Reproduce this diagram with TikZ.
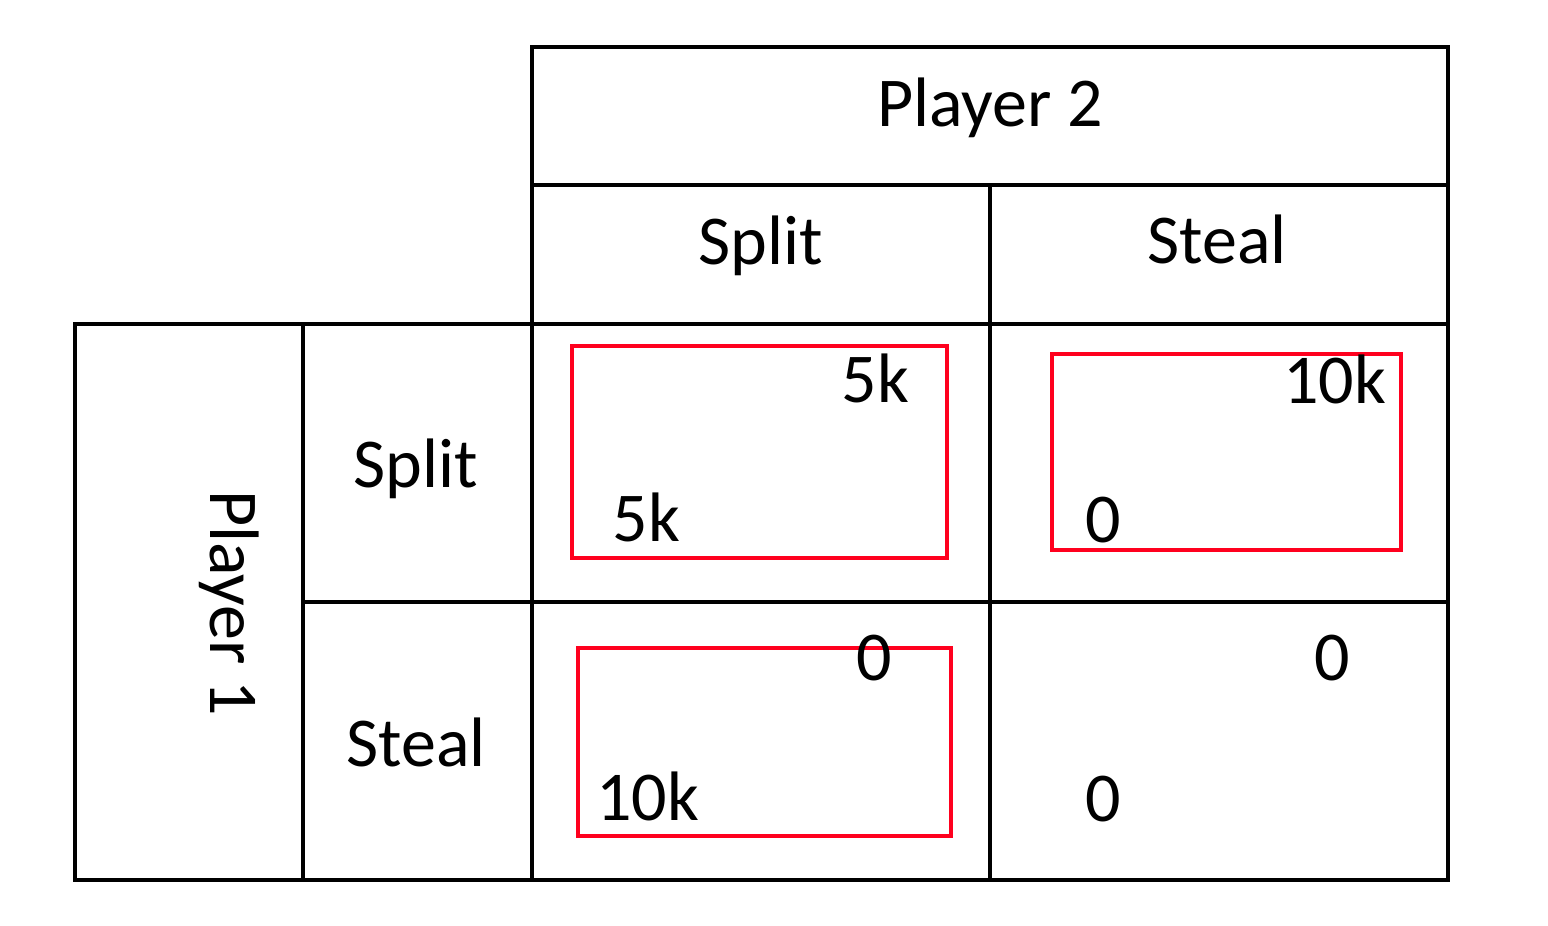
\documentclass[tikz,border=0pt]{standalone}
\usepackage{fontspec}
\setmainfont{Carlito}
\definecolor{hl}{RGB}{255,0,30}
\begin{document}
\begin{tikzpicture}[x=1pt,y=-1pt,
  grid/.style={line width=3.2pt,black},
  hlbox/.style={line width=4pt,draw=hl},
  lbl/.style={inner sep=0pt,anchor=base,font=\fontsize{70}{84}\selectfont}]
\useasboundingbox[fill=white] (0,0) rectangle (1548,926);
% grid
\draw[grid] (532,47) rectangle (1448,880);
\draw[grid] (532,185) -- (1448,185);
\draw[grid] (75,324) -- (1448,324);
\draw[grid] (75,324) rectangle (532,880);
\draw[grid] (303,324) -- (303,880);
\draw[grid] (303,602) -- (1448,602);
\draw[grid] (990,185) -- (990,880);
% highlights
\draw[hlbox] (572,346) rectangle (947,558);
\draw[hlbox] (1052,354) rectangle (1401,550);
\draw[hlbox] (578,648) rectangle (951,836);
% headers
\node[lbl] (p2) at (990,126) {Player 2};
\node[lbl] (c1) at (761,264) {Split};
\node[lbl] (c2) at (1217,263) {Steal};
\node[lbl,rotate=-90] (p1) at (210,603) {Player 1};
\node[lbl] (r1) at (416,487) {Split};
\node[lbl] (r2) at (416,766) {Steal};
% payoffs
\node[lbl] (a2) at (875.5,402) {5k};
\node[lbl] (a1) at (646.5,541) {5k};
\node[lbl] (b2) at (1334.5,403) {10k};
\node[lbl] (b1) at (1103.5,542) {0};
\node[lbl] (c2p) at (874,680) {0};
\node[lbl] (c1p) at (647.5,820) {10k};
\node[lbl] (d2) at (1332,680) {0};
\node[lbl] (d1) at (1103.5,821) {0};
\end{tikzpicture}
\end{document}
